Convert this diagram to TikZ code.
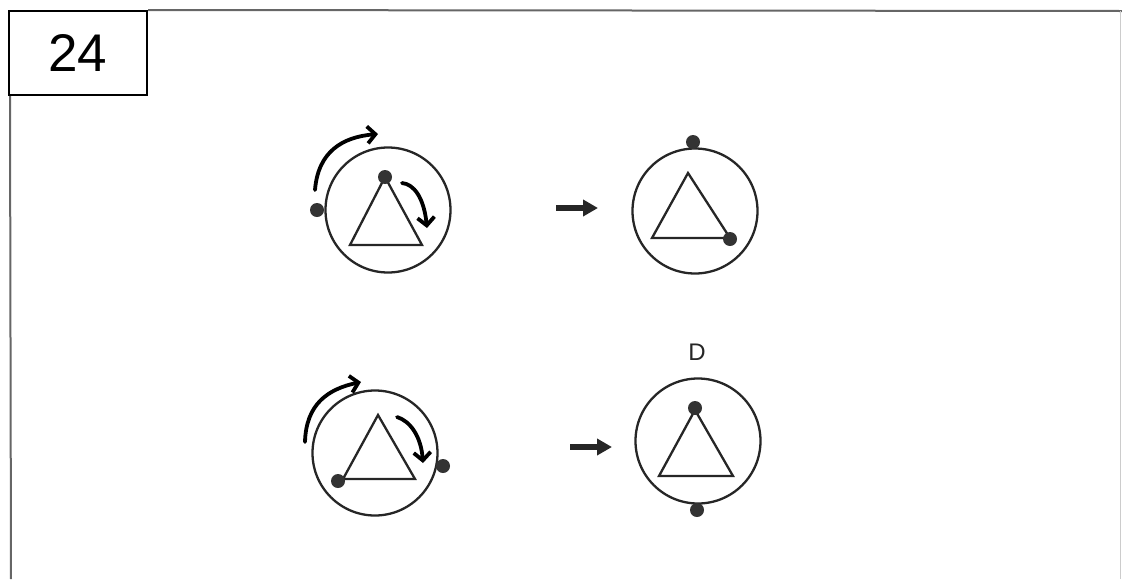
\documentclass[tikz,border=0pt]{standalone}
\usepackage{fontspec}
\setmainfont{Liberation Sans}
\usetikzlibrary{arrows.meta}

\begin{document}
\begin{tikzpicture}[
  x=1pt, y=-1pt,
  disc/.style={circle,draw=black!85,line width=2.3pt,minimum size=125pt,inner sep=0pt},
  dot/.style={circle,fill=black!80,minimum size=14pt,inner sep=0pt},
  tri/.style={draw=black!85,line width=2.3pt,line join=miter},
  go/.style={-{Triangle[length=15pt,width=16pt]},line width=5.5pt,black!85},
  hand/.style={-{Straight Barb[length=8pt,width=17pt]},line width=3.8pt,black,line cap=round,line join=round},
  frame/.style={black!60,line width=2pt},
  lbl/.style={font=\fontsize{24}{28}\selectfont,text=black!85}]

\useasboundingbox (0,0) rectangle (1122,579);

% frame and number
\node[draw=black,line width=2pt,minimum width=138pt,minimum height=84pt,inner sep=0pt,
      font=\fontsize{53}{60}\selectfont] (num) at (78,53) {24};
\draw[frame] (num.north east) -- (1122,11);
\draw[frame] ([xshift=2pt]num.south west) -- (11,579);
\draw[black!20,line width=1pt] (1120,11) -- (1120,579);

% first row
\node[disc] (c1) at (388,210) {};
\draw[tri] (385,177) -- (350,245) -- (422,245) -- cycle;
\node[dot] (t1) at (385,177) {};
\node[dot] (o1) at (317,210) {};
\coordinate (h1a) at (315,190);
\coordinate (h1b) at (378,134);
\coordinate (h2a) at (402,183);
\coordinate (h2b) at (427,228);
\draw[hand] (h1a) .. controls (318,152) and (342,137) .. (h1b);
\draw[hand] (h2a) .. controls (414,184) and (424,198) .. (h2b);

\coordinate (g1a) at (556,208);
\coordinate (g1b) at (598,208);
\draw[go] (g1a) -- (g1b);

\node[disc] (c2) at (695,211) {};
\draw[tri] (688,173) -- (652,238) -- (730,238) -- cycle;
\node[dot] (t2) at (730,239) {};
\node[dot] (o2) at (693,142) {};

% second row
\node[disc] (c3) at (375,453) {};
\draw[tri] (378,415) -- (343,479) -- (415,479) -- cycle;
\node[dot] (t3) at (338,481) {};
\node[dot] (o3) at (443,466) {};
\coordinate (h3a) at (305,442);
\coordinate (h3b) at (361,382);
\coordinate (h4a) at (397,417);
\coordinate (h4b) at (423,463);
\draw[hand] (h3a) .. controls (306,404) and (328,389) .. (h3b);
\draw[hand] (h4a) .. controls (410,421) and (421,436) .. (h4b);

\coordinate (g2a) at (570,447);
\coordinate (g2b) at (612,447);
\draw[go] (g2a) -- (g2b);

\node[disc] (c4) at (698,441) {};
\draw[tri] (695,410) -- (659,476) -- (733,476) -- cycle;
\node[dot] (t4) at (695,408) {};
\node[dot] (o4) at (697,510) {};
\node[lbl] (d) at (697,352) {D};
\end{tikzpicture}
\end{document}
